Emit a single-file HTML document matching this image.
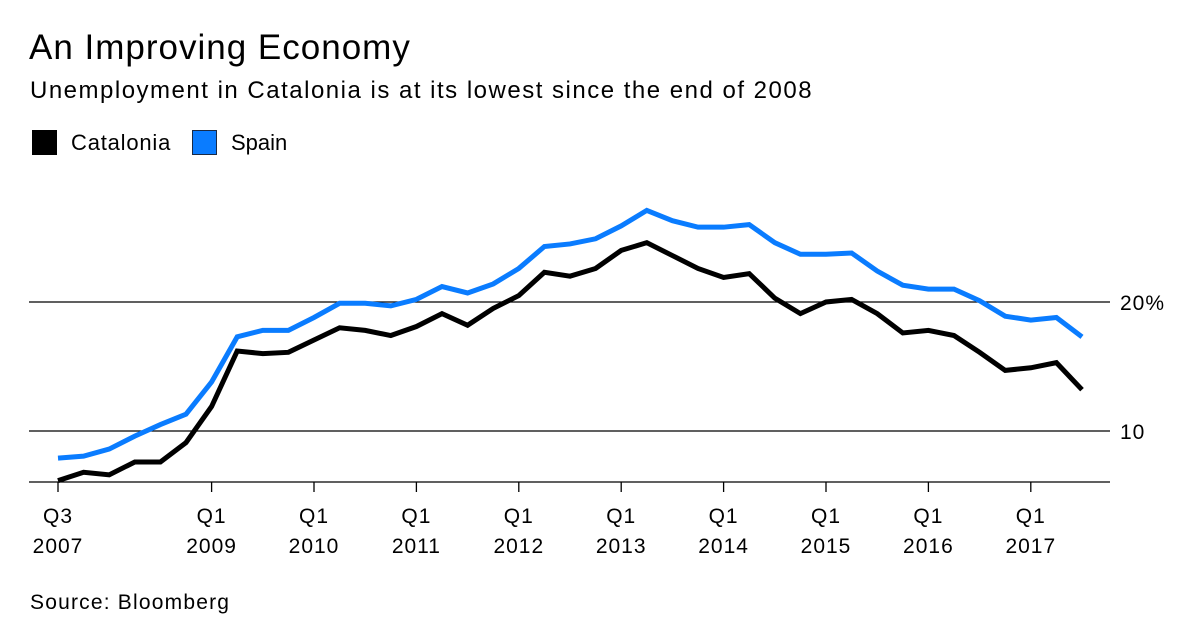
<!DOCTYPE html>
<html><head><meta charset="utf-8"><style>
body{margin:0;background:#fff;width:1200px;height:637px;overflow:hidden;font-family:"Liberation Sans",sans-serif;color:#000}
.t{position:absolute;white-space:nowrap}
</style></head><body>
<div class="t" style="left:29px;top:28px;font-size:35px;letter-spacing:1px">An Improving Economy</div>
<div class="t" style="left:30px;top:77px;font-size:24px;letter-spacing:1.5px">Unemployment in Catalonia is at its lowest since the end of 2008</div>
<div style="position:absolute;left:32px;top:130px;width:25px;height:25px;background:#000"></div>
<div class="t" style="left:71px;top:130px;font-size:22px;letter-spacing:0.8px">Catalonia</div>
<div style="position:absolute;left:192px;top:130px;width:23px;height:23px;background:#0a7cff;border:1px solid #1a2a44"></div>
<div class="t" style="left:231px;top:130px;font-size:22px">Spain</div>
<div class="t" style="left:30px;top:591px;font-size:21px;letter-spacing:1.2px">Source: Bloomberg</div>
<svg id="c" width="1200" height="637" style="position:absolute;left:0;top:0"></svg>
<script>
const catalonia=[6.15,6.8,6.6,7.6,7.6,9.1,11.9,16.2,16.0,16.1,17.05,18.0,17.8,17.4,18.1,19.1,18.2,19.5,20.5,22.3,22.0,22.6,24.0,24.6,23.6,22.6,21.9,22.2,20.3,19.1,20.0,20.2,19.1,17.6,17.8,17.4,16.1,14.7,14.9,15.3,13.2];
const spain=[7.9,8.05,8.6,9.6,10.5,11.3,13.8,17.3,17.8,17.8,18.8,19.9,19.9,19.7,20.2,21.2,20.7,21.4,22.6,24.3,24.5,24.9,25.9,27.1,26.3,25.8,25.8,26.0,24.6,23.7,23.7,23.8,22.4,21.3,21.0,21.0,20.1,18.9,18.6,18.8,17.3];
const yTicks=[10,20];
const yTickLabels=["10","20%"];
const xTickIdx=[0,6,10,14,18,22,26,30,34,38];
const xTickTop=["Q3","Q1","Q1","Q1","Q1","Q1","Q1","Q1","Q1","Q1"];
const xTickBottom=["2007","2009","2010","2011","2012","2013","2014","2015","2016","2017"];
const NS="http://www.w3.org/2000/svg",svg=document.getElementById('c');
const x=i=>58+i*(1082-58)/40;
const y=v=>302-(v-20)*12.9;
function mk(t,a){const e=document.createElementNS(NS,t);for(const k in a)e.setAttribute(k,a[k]);svg.appendChild(e);return e;}
yTicks.forEach((v,i)=>{
 const l=mk('line',{x1:29,x2:1110,y1:y(v),y2:y(v),stroke:'#000','stroke-width':1.3});
 
 
 const t=mk('text',{x:1120,y:y(v)+8,'font-size':21,'letter-spacing':1,'font-family':'Liberation Sans'});t.textContent=yTickLabels[i];
 
 
});
const ax=mk('line',{x1:29,x2:1110,y1:482,y2:482,stroke:'#000','stroke-width':1.3});


xTickIdx.forEach((q,i)=>{
 const tk=mk('line',{x1:x(q),x2:x(q),y1:482,y2:492,stroke:'#000','stroke-width':1.3});
 
 
 const a=mk('text',{x:x(q),y:523,'font-size':21,'letter-spacing':1,'text-anchor':'middle','font-family':'Liberation Sans'});a.textContent=xTickTop[i];
 
 
 const b=mk('text',{x:x(q),y:553,'font-size':21,'letter-spacing':1,'text-anchor':'middle','font-family':'Liberation Sans'});b.textContent=xTickBottom[i];
 
 
});
function line(d,c,n){const p=mk('polyline',{points:d.map((v,i)=>x(i)+','+y(v)).join(' '),fill:'none',stroke:c,'stroke-width':5,'stroke-linejoin':'miter'});
 
 }
line(spain,'#0a7cff','spain-line');
line(catalonia,'#000','catalonia-line');
</script>
</body></html>
